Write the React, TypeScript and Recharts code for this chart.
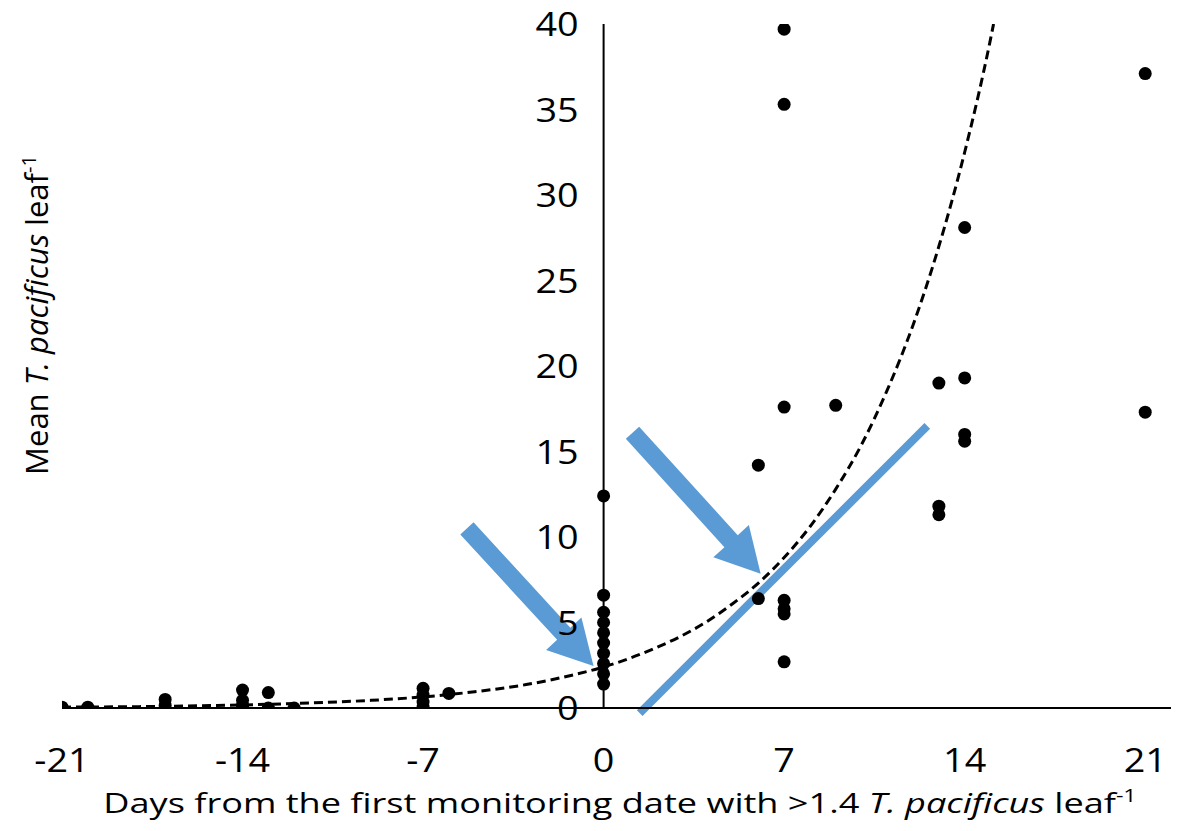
import React from "react";
import {
  ComposedChart,
  Scatter,
  Line,
  XAxis,
  YAxis,
  ReferenceLine,
  ReferenceDot,
} from "recharts";

// observed means, one entry per site/date
const days = [
  -21, -20, -17, -17, -14, -14, -14, -14, -13, -13, -12,
  -7, -7, -7, -7, -6,
  0, 0, 0, 0, 0, 0, 0, 0, 0, 0,
  6, 6,
  7, 7, 7, 7, 7, 7, 7,
  9,
  13, 13, 13,
  14, 14, 14, 14,
  21, 21,
];
const means = [
  0.05, 0.05, 0.5, 0.15, 1.05, 0.45, 0.15, 0.0, 0.9, 0.0, 0.0,
  1.15, 0.75, 0.35, 0.05, 0.85,
  12.4, 6.6, 5.6, 5.0, 4.4, 3.8, 3.2, 2.6, 2.0, 1.4,
  14.2, 6.4,
  39.7, 35.3, 17.6, 6.3, 5.8, 5.5, 2.7,
  17.7,
  19.0, 11.8, 11.3,
  28.1, 19.3, 16.0, 15.6,
  37.1, 17.3,
];

// exponential trendline
const trendDays = [-21, -18, -15, -12, -9, -7, -5, -3, -1, 0, 1, 2, 3, 4, 5, 6, 7, 8, 9, 10, 11, 12, 13, 14, 15, 15.12];
const trendMeans = [0.05, 0.08, 0.15, 0.26, 0.45, 0.65, 0.95, 1.37, 2.0, 2.4, 2.9, 3.5, 4.2, 5.05, 6.1, 7.3, 8.8, 10.6, 12.8, 15.4, 18.6, 22.4, 27.0, 32.5, 39.1, 40];

// blue straight line (start, end)
const blueLine = [
  { x: 1.4, y: -0.3 },
  { x: 12.55, y: 16.5 },
];

// arrows: tail -> tip
const arrows = [
  [{ x: -5.3, y: 10.5 }, { x: -0.39, y: 2.45 }],
  [{ x: 1.12, y: 16.1 }, { x: 6.09, y: 7.85 }],
];

const xTicks = [-21, -14, -7, 0, 7, 14, 21];
const yTicks = [0, 5, 10, 15, 20, 25, 30, 35, 40];

const points = days.map((d, i) => ({ x: d, y: means[i] }));
const trend = trendDays.map((d, i) => ({ x: d, y: trendMeans[i] }));

const BLUE = "#5B9BD5";
const FONT = "'Open Sans', sans-serif";
const TICK_SIZE = 32;
const TICK_STRETCH = 1.18;

function Arrow(props: any) {
  const { x1, y1, x2, y2 } = props;
  const dx = x2 - x1;
  const dy = y2 - y1;
  const len = Math.sqrt(dx * dx + dy * dy);
  const ux = dx / len;
  const uy = dy / len;
  const nx = -uy;
  const ny = ux;
  const shaft = 9;
  const head = 24;
  const headLen = 44;
  const bx = x2 - ux * headLen;
  const by = y2 - uy * headLen;
  const pts = [
    [x1 + nx * shaft, y1 + ny * shaft],
    [bx + nx * shaft, by + ny * shaft],
    [bx + nx * head, by + ny * head],
    [x2, y2],
    [bx - nx * head, by - ny * head],
    [bx - nx * shaft, by - ny * shaft],
    [x1 - nx * shaft, y1 - ny * shaft],
  ]
    .map((p) => p.join(","))
    .join(" ");
  return <polygon points={pts} fill={BLUE} />;
}

function XTick(props: any) {
  const { x, y, payload } = props;
  return (
    <text
      transform={`translate(${x},${y + 52}) scale(${TICK_STRETCH},1)`}
      textAnchor="middle"
      dominantBaseline="central"
      fontSize={TICK_SIZE}
      fontFamily={FONT}
      fill="#000"
    >
      {payload.value}
    </text>
  );
}

const yLabel = (v: number) => (p: any) => (
  <text
    transform={`translate(${p.cx - 25},${p.cy}) scale(${TICK_STRETCH},1)`}
    textAnchor="end"
    dominantBaseline="central"
    fontSize={TICK_SIZE}
    fontFamily={FONT}
    fill="#000"
  >
    {v}
  </text>
);

export default function App() {
  return (
    <div style={{ width: 1168, height: 823, background: "#fff" }}>
      <ComposedChart
        width={1168}
        height={823}
        margin={{ top: 16, right: 5, left: 54, bottom: 0 }}
      >
        <XAxis
          type="number"
          dataKey="x"
          domain={[-21, 22]}
          ticks={xTicks}
          allowDataOverflow
          height={123}
          tickLine={false}
          tickSize={0}
          tickMargin={0}
          axisLine={{ stroke: "#000", strokeWidth: 2 }}
          tick={<XTick />}
        />
        <YAxis type="number" dataKey="y" domain={[0, 40]} allowDataOverflow hide />
        <ReferenceLine
          segment={[{ x: 0, y: 0 }, { x: 0, y: 40 }]}
          stroke="#000"
          strokeWidth={2}
        />
        {yTicks.map((v) => (
          <ReferenceDot
            key={v}
            x={0}
            y={v}
            r={1}
            ifOverflow="visible"
            shape={yLabel(v)}
          />
        ))}
        <Line
          data={trend}
          dataKey="y"
          type="monotone"
          stroke="#000"
          strokeWidth={3}
          strokeDasharray="9 5"
          dot={false}
          activeDot={false}
          isAnimationActive={false}
        />
        <Scatter
          data={points}
          dataKey="y"
          fill="#000"
          shape={(p: any) => <circle cx={p.cx} cy={p.cy} r={6.5} fill="#000" />}
          isAnimationActive={false}
        />
        <ReferenceLine
          segment={blueLine}
          stroke={BLUE}
          strokeWidth={8}
          ifOverflow="visible"
        />
        {arrows.map((seg, i) => (
          <ReferenceLine key={i} segment={seg} ifOverflow="visible" shape={Arrow} />
        ))}
        <text
          transform="translate(612,805) scale(1.29,1)"
          textAnchor="middle"
          fontSize={28}
          fontFamily={FONT}
          fill="#000"
        >
          Days from the first monitoring date with &gt;1.4{" "}
          <tspan fontStyle="italic">T. pacificus</tspan> leaf
          <tspan dy={-11} fontSize={18}>-1</tspan>
        </text>
        <text
          transform="translate(40,307) rotate(-90)"
          textAnchor="middle"
          fontSize={31}
          fontFamily={FONT}
          fill="#000"
        >
          Mean <tspan fontStyle="italic">T. pacificus</tspan> leaf
          <tspan dy={-12} fontSize={20}>-1</tspan>
        </text>
      </ComposedChart>
    </div>
  );
}
